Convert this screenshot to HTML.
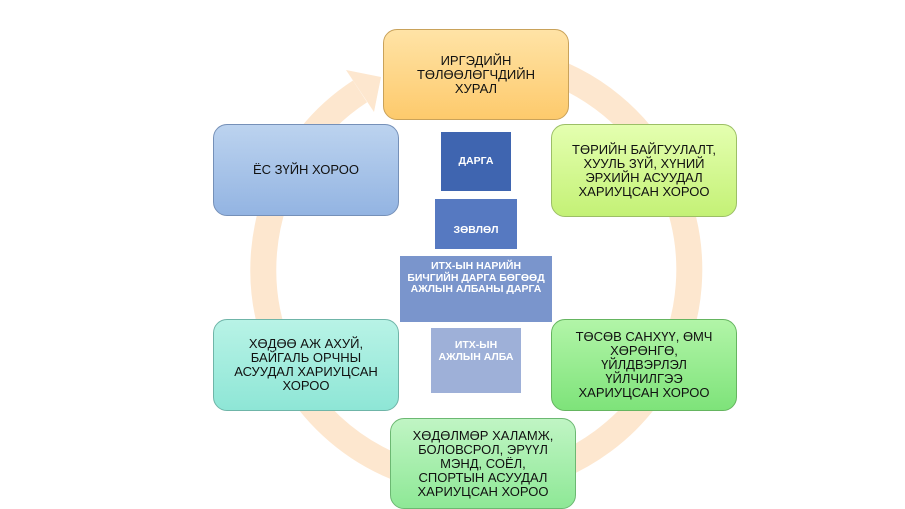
<!DOCTYPE html>
<html><head><meta charset="utf-8"><style>
body{margin:0;width:905px;height:509px;background:#fff;position:relative;overflow:hidden;font-family:"Liberation Sans",sans-serif}
.b{position:absolute;box-sizing:border-box;border-radius:14px;display:flex;align-items:center;justify-content:center;text-align:center;font-size:13px;line-height:14px;color:#111;padding:0 4px}
.r{position:absolute;box-sizing:border-box;display:flex;align-items:center;justify-content:center;text-align:center;color:#fff;font-size:10.5px;font-weight:bold;line-height:11.5px}
</style></head><body>
<svg width="905" height="509" style="position:absolute;left:0;top:0">
<path d="M531,64 A213,213 0 1 1 360,91.4" fill="none" stroke="#fde7cf" stroke-width="26"/>
<polygon points="381,77 346,70 374,112" fill="#fde7cf"/>
</svg>
<div class="b" style="left:383px;top:29px;width:186px;height:91px;background:linear-gradient(#ffe3a6,#fdca6c);border:1px solid #c9a25a">ИРГЭДИЙН<br>ТӨЛӨӨЛӨГЧДИЙН<br>ХУРАЛ</div>
<div class="b" style="left:551px;top:124px;width:186px;height:93px;background:linear-gradient(#e4ffb0,#c4f176);border:1px solid #9cbf66">ТӨРИЙН БАЙГУУЛАЛТ,<br>ХУУЛЬ ЗҮЙ, ХҮНИЙ<br>ЭРХИЙН АСУУДАЛ<br>ХАРИУЦСАН ХОРОО</div>
<div class="b" style="left:213px;top:124px;width:186px;height:92px;background:linear-gradient(#bcd3ef,#93b4e2);border:1px solid #7590b8">ЁС ЗҮЙН ХОРОО</div>
<div class="b" style="left:213px;top:319px;width:186px;height:92px;background:linear-gradient(#b8f3e6,#8ee6d6);border:1px solid #6fb5a8">ХӨДӨӨ АЖ АХУЙ,<br>БАЙГАЛЬ ОРЧНЫ<br>АСУУДАЛ ХАРИУЦСАН<br>ХОРОО</div>
<div class="b" style="left:551px;top:319px;width:186px;height:92px;background:linear-gradient(#b2f5a8,#7ee37a);border:1px solid #65b560">ТӨСӨВ САНХҮҮ, ӨМЧ<br>ХӨРӨНГӨ,<br>ҮЙЛДВЭРЛЭЛ<br>ҮЙЛЧИЛГЭЭ<br>ХАРИУЦСАН ХОРОО</div>
<div class="b" style="left:390px;top:418px;width:186px;height:91px;background:linear-gradient(#c0f5c4,#8ee896);border:1px solid #6cb872">ХӨДӨЛМӨР ХАЛАМЖ,<br>БОЛОВСРОЛ, ЭРҮҮЛ<br>МЭНД, СОЁЛ,<br>СПОРТЫН АСУУДАЛ<br>ХАРИУЦСАН ХОРОО</div>
<div class="r" style="left:441px;top:132px;width:70px;height:59px;background:#3f65b0">ДАРГА</div>
<div class="r" style="left:435px;top:199px;width:82px;height:50px;background:#5679c1;padding-top:14px">ЗӨВЛӨЛ</div>
<div class="r" style="left:400px;top:256px;width:152px;height:66px;background:#7a95cc;align-items:flex-start;padding-top:5px">ИТХ-ЫН НАРИЙН<br>БИЧГИЙН ДАРГА БӨГӨӨД<br>АЖЛЫН АЛБАНЫ ДАРГА</div>
<div class="r" style="left:431px;top:328px;width:90px;height:65px;background:#9eb0d8;align-items:flex-start;padding-top:12px">ИТХ-ЫН<br>АЖЛЫН АЛБА</div>
</body></html>
